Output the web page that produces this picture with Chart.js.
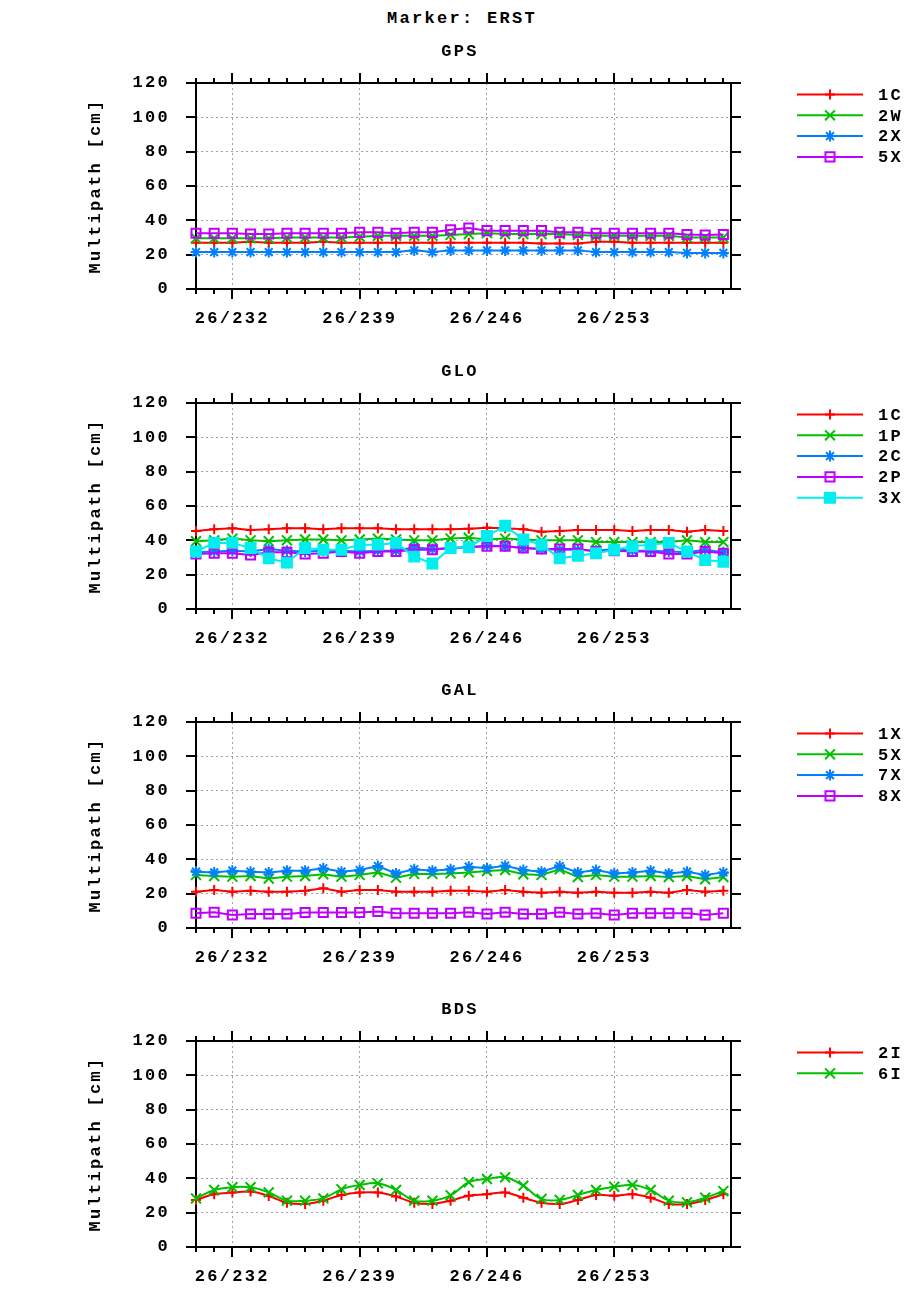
<!DOCTYPE html>
<html>
<head>
<meta charset="utf-8">
<title>Marker: ERST</title>
<script src="https://cdn.jsdelivr.net/npm/chart.js@4.4.1/dist/chart.umd.min.js"></script>
<style>
  html, body { margin: 0; padding: 0; background: #fff; overflow: hidden; }
  #page { position: relative; width: 920px; height: 1300px; }
  #page canvas { position: absolute; left: 0; }
  #mainTitle {
    position: absolute; left: 0; width: 920px; top: 9px; text-align: center;
    font: bold 17px "Liberation Mono", monospace; letter-spacing: 2.3px; color: #000;
    padding-left: 2px;
  }
</style>
</head>
<body>
<div id="page">
  <div id="mainTitle">Marker: ERST</div>
  <canvas id="panel0" width="920" height="345" style="top:0px"></canvas>
  <canvas id="panel1" width="920" height="345" style="top:320px"></canvas>
  <canvas id="panel2" width="920" height="345" style="top:639px"></canvas>
  <canvas id="panel3" width="920" height="345" style="top:958px"></canvas>
</div>
<script>
/* ── Data ─────────────────────────────────────────────────────────────────── */

const days = [230,231,232,233,234,235,236,237,238,239,240,241,242,243,244,
              245,246,247,248,249,250,251,252,253,254,255,256,257,258,259];
const xTicks = [232, 239, 246, 253];          // labelled as 26/ddd
const yTicks = [0, 20, 40, 60, 80, 100, 120];

/* GPS */
const gpsLabels = ["1C", "2W", "2X", "5X"];
const gps1C = [27,27,27,27.5,27,27,27,27.5,27,27,27,27,27,27,27,27,27,27,27,26.5,26.5,26.5,27.5,27.5,27,27,27,27,27,27];
const gps2W = [29.5,29.5,29.5,29.5,29.5,30,30,30,30,30.5,31,31,31,31,31.5,32,32.5,32,32,32,32,31.5,31,31,31,31,31,30,30,30];
const gps2X = [21.5,21.5,21.5,21.5,21.5,21.5,21.5,21.5,21.5,21.5,21.5,21.5,22.5,21.5,22.5,22.5,22.5,22.5,22.5,22.5,22.5,22.5,21.5,21.5,21.5,21.5,21.5,21,21,21];
const gps5X = [32.5,32.5,32.5,32,32,32.5,32.5,32.5,32.5,33,33,32.5,33,33,34.5,35.5,34,34,34,34,33,33,32.5,32.5,32.5,32.5,32.5,31.8,31.4,31.8];

/* GLO */
const gloLabels = ["1C", "1P", "2C", "2P", "3X"];
const glo1C = [45.5,46.5,47,46,46.5,47,47,46.5,47,47,47,46.5,46.5,46.5,46.5,46.8,47.3,47,46.5,45,45.5,46,46,46,45.5,46,46,45,46,45.5];
const glo1P = [39.5,40,41,40,39.5,40,40.5,40.5,40,40.5,41,40.5,40,40,41,41.5,40.5,41,40.5,40,40,40,39,39,39,39,39,40,39,39];
const glo2C = [33,33.5,34,33.5,35,34,33.5,34,34,33.5,34,34,36,35,35.5,36,37,36.5,35.5,35,34.5,34.5,34,35,34,34,33.5,33,34.5,33];
const glo2P = [32,32.5,32.5,31.5,33,33,32,32.5,33.5,32.5,33.5,33.5,34.5,34.5,35.5,36,36.5,36.5,35.5,35,35,35,33.5,34,33.5,33.5,32,32,33.5,32.5];
const glo3X = [33.5,38.5,38.5,35.5,29.5,27,35.5,34.5,34.5,37.5,37.5,38.5,30.5,26.5,35.5,36,42.5,48.5,40.5,37.5,29.5,31,32.5,34.5,36.5,37.5,38.5,33.5,28.5,27.5];

/* GAL */
const galLabels = ["1X", "5X", "7X", "8X"];
const gal1X = [21.1,22.1,21.1,21.7,21.1,21.1,21.7,23.1,21.1,22.1,22.1,21.1,21.1,21.1,21.7,21.7,21.1,22.1,21.1,20.5,21.1,20.5,21.1,20.5,20.5,21.1,20.5,22.1,21.1,21.7];
const gal5X = [30.9,30.3,29.9,30.3,28.8,29.9,30.3,31.3,29.9,30.9,32.4,29.3,31.5,31.5,31.8,32.4,33.2,33.8,31.3,30.9,34.2,29.7,30.9,29.9,29.9,30.3,29.7,30.3,28.4,29.7];
const gal7X = [32.8,32.4,33.4,32.8,32.4,33.4,33.4,34.8,32.8,33.8,36.1,31.8,34.2,33.4,34.2,35.7,34.8,36.3,33.8,32.8,36.1,32.4,33.8,31.8,32.4,33.4,31.8,32.8,30.9,32.4];
const gal8X = [8.6,9.2,7.6,8.2,8.2,8.2,9.0,9.0,9.0,9.0,9.6,8.6,8.6,8.6,8.6,9.2,8.2,9.2,8.2,8.2,9.2,8.2,8.6,7.6,8.6,8.6,8.6,8.6,7.6,8.6];

/* BDS */
const bdsLabels = ["2I", "6I"];
const bds2I = [27.4,30.7,31.7,32.3,29.7,25.8,25.1,27.0,30.3,31.7,31.7,29.4,25.8,25.1,27.0,29.9,30.7,31.7,28.7,25.8,25.1,27.4,30.3,29.9,30.7,28.7,25.1,25.1,27.4,30.7];
const bds6I = [28.3,33.2,34.8,34.8,31.8,27.0,27.0,28.3,33.6,36.1,37.1,33.2,27.0,27.0,30.1,37.7,39.6,40.6,35.7,28.0,27.4,30.3,33.2,35.1,36.1,33.2,27.0,26.0,28.7,32.6];

/* ── Styles (gnuplot classic line types) ─────────────────────────────────── */

const FONT = { family: "'Liberation Mono', 'DejaVu Sans Mono', monospace", size: 17, weight: "bold" };
const FONT_CSS = "bold 17px 'Liberation Mono', 'DejaVu Sans Mono', monospace";
const LETTER = "2.3px";
const GRID = "#a0a0a0";

const LT = [
  { color: "#ff0000", pointStyle: "cross",    radius: 5,   fill: "#ff0000" },
  { color: "#00c000", pointStyle: "crossRot", radius: 7,   fill: "#00c000" },
  { color: "#0080ff", pointStyle: "star",     radius: 5.5, fill: "#0080ff" },
  { color: "#c000ff", pointStyle: "rect",     radius: 6.4, fill: "rgba(0,0,0,0)" },
  { color: "#00eeee", pointStyle: "rect",     radius: 7,   fill: "#00eeee" },
];

const panels = [
  { title: "GPS", labels: gpsLabels, series: [gps1C, gps2W, gps2X, gps5X], tension: 0 },
  { title: "GLO", labels: gloLabels, series: [glo1C, glo1P, glo2C, glo2P, glo3X], tension: 0 },
  { title: "GAL", labels: galLabels, series: [gal1X, gal5X, gal7X, gal8X], tension: 0 },
  { title: "BDS", labels: bdsLabels, series: [bds2I, bds6I], tension: 0.4 },
];

/* ── Frame, ticks, title and key (drawn the gnuplot way) ─────────────────── */

const panelPlugin = {
  id: "panel",
  beforeDraw(chart) {
    chart.ctx.letterSpacing = LETTER;
  },
  beforeDatasetsDraw(chart) {
    const { ctx, chartArea: a, scales: { x, y } } = chart;
    ctx.save();
    ctx.strokeStyle = "#000";
    ctx.lineWidth = 2;
    ctx.strokeRect(a.left, a.top, a.right - a.left, a.bottom - a.top);
    ctx.beginPath();
    days.forEach(d => {
      const px = Math.round(x.getPixelForValue(d));
      const len = xTicks.includes(d) ? 10 : 5;
      ctx.moveTo(px, a.bottom); ctx.lineTo(px, a.bottom + len);
      ctx.moveTo(px, a.top);    ctx.lineTo(px, a.top - len);
    });
    yTicks.forEach(v => {
      const py = Math.round(y.getPixelForValue(v));
      ctx.moveTo(a.left, py);  ctx.lineTo(a.left - 10, py);
      ctx.moveTo(a.right, py); ctx.lineTo(a.right + 10, py);
    });
    ctx.stroke();
    ctx.restore();
  },
  afterDraw(chart, args, opts) {
    const ctx = chart.ctx;
    ctx.save();
    ctx.letterSpacing = LETTER;
    ctx.font = FONT_CSS;
    ctx.fillStyle = "#000";
    ctx.textBaseline = "middle";
    ctx.textAlign = "center";
    ctx.fillText(opts.title, 460, 51.5);

    /* key */
    opts.labels.forEach((lab, k) => {
      const st = LT[k];
      const ry = 94.5 + k * 20.8;
      ctx.strokeStyle = st.color;
      ctx.lineWidth = 2;
      ctx.beginPath();
      ctx.moveTo(797, ry); ctx.lineTo(863, ry);
      ctx.stroke();
      ctx.fillStyle = st.fill;
      Chart.helpers.drawPoint(ctx, { pointStyle: st.pointStyle, radius: st.radius, rotation: 0, borderWidth: 2 }, 830, ry);
      ctx.fillStyle = "#000";
      ctx.textAlign = "left";
      ctx.fillText(lab, 878, ry + 1);
    });
    ctx.restore();
  }
};

/* ── Charts ───────────────────────────────────────────────────────────────── */

panels.forEach((p, i) => {
  const n = p.series.length;
  const datasets = p.series.map((vals, k) => ({
    label: p.labels[k],
    data: days.map((d, j) => ({ x: d, y: vals[j] })),
    borderColor: LT[k].color,
    backgroundColor: LT[k].fill,
    pointBorderColor: LT[k].color,
    pointBackgroundColor: LT[k].fill,
    pointStyle: LT[k].pointStyle,
    pointRadius: LT[k].radius,
    pointBorderWidth: 2,
    borderWidth: 2,
    tension: p.tension,
    fill: false,
    clip: false,
    order: n - k
  }));

  new Chart(document.getElementById("panel" + i), {
    type: "line",
    data: { datasets },
    plugins: [panelPlugin],
    options: {
      responsive: false,
      animation: false,
      events: [],
      layout: { padding: { top: 83, right: 189, left: 0, bottom: 0 } },
      plugins: {
        legend: { display: false },
        title: { display: false },
        tooltip: { enabled: false },
        panel: { title: p.title, labels: p.labels }
      },
      scales: {
        x: {
          type: "linear",
          min: 230, max: 259.42,
          afterFit: s => { s.height = 56; },
          ticks: {
            stepSize: 1, autoSkip: false, maxRotation: 0, padding: 20,
            color: "#000", font: FONT,
            callback: v => xTicks.includes(v) ? "26/" + v : ""
          },
          grid: {
            drawTicks: false, lineWidth: 1,
            color: c => (c.tick && xTicks.includes(c.tick.value)) ? GRID : "rgba(0,0,0,0)"
          },
          border: { display: false, dash: [2, 3] }
        },
        y: {
          min: 0, max: 120,
          afterFit: s => { s.width = 196; },
          ticks: { stepSize: 20, padding: 26, color: "#000", font: FONT },
          grid: {
            drawTicks: false, lineWidth: 1,
            color: c => (c.tick && c.tick.value > 0 && c.tick.value < 120) ? GRID : "rgba(0,0,0,0)"
          },
          border: { display: false, dash: [2, 3] },
          title: {
            display: true, text: "Multipath [cm]", color: "#000", font: FONT,
            padding: { top: 86, bottom: 0 }
          }
        }
      }
    }
  });
});
</script>
</body>
</html>
